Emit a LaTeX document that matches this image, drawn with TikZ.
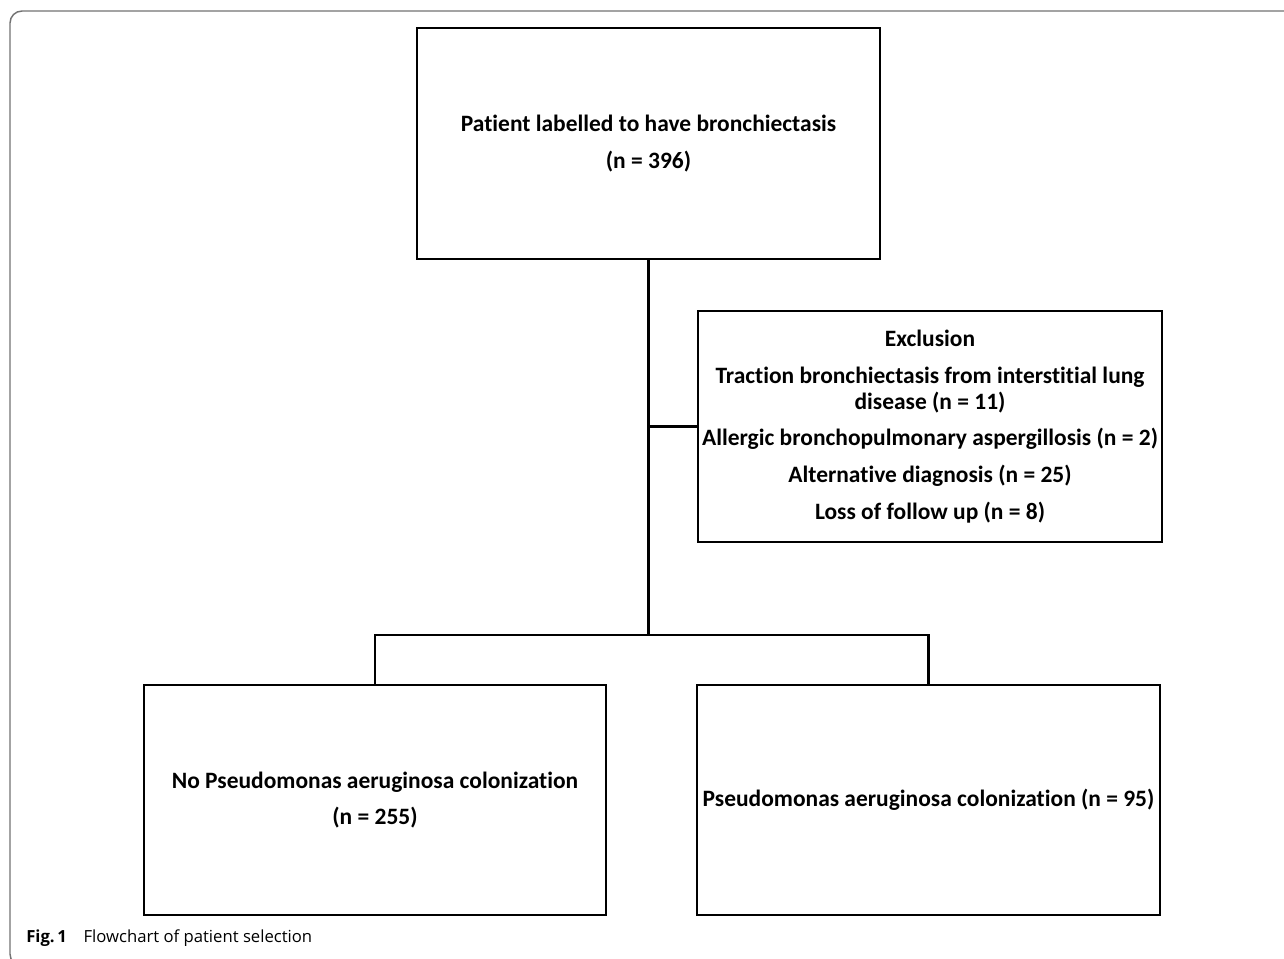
\documentclass[tikz,border=0pt]{standalone}
\usepackage{fontspec}
\setmainfont{Carlito}[Ligatures=NoCommon]
\newfontfamily\capfont{Open Sans}
\tikzset{
  flowbox/.style={draw=black, line width=1.6pt, align=center, inner sep=0pt,
    font=\bfseries\fontsize{17.6}{19.5}\selectfont},
  link/.style={draw=black, line width=1.6pt},
  frame/.style={draw=black!55, line width=1.1pt, rounded corners=9pt}
}
\begin{document}
\begin{tikzpicture}[x=0.75pt,y=-0.75pt]

  \useasboundingbox (0,0) rectangle (1284,958);
  \clip (0,0) rectangle (1284,958);
  \fill[white] (0,0) rectangle (1284,958);
  \draw[frame] (40,966) -- (10,966) -- (10,11) -- (1300,11);

  \node[flowbox, minimum width=347.25pt, minimum height=173.25pt] (top) at (648.5,143.5)
    {Patient labelled to have bronchiectasis\\[8pt](n = 396)};
  \node[flowbox, minimum width=348pt, minimum height=173.25pt] (excl) at (930,426.5)
    {Exclusion\\[8pt]Traction bronchiectasis from interstitial lung\\disease (n = 11)\\[8pt]
     Allergic bronchopulmonary aspergillosis (n = 2)\\[8pt]Alternative diagnosis (n = 25)\\[8pt]
     Loss of follow up (n = 8)};
  \node[flowbox, minimum width=346.5pt, minimum height=172.5pt] (nopa) at (375,800)
    {No Pseudomonas aeruginosa colonization\\[8pt](n = 255)};
  \node[flowbox, minimum width=347.25pt, minimum height=172.5pt] (pa) at (928.5,800)
    {Pseudomonas aeruginosa colonization (n = 95)};

  \coordinate (split) at (649,635);
  \draw[link] (top.south) -- (top.south |- split);
  \draw[link] (excl.west) -- (excl.west -| split);
  \draw[link] (nopa.north) |- (split) -| (pa.north);

  \node[anchor=base west, inner sep=0pt, font=\capfont\fontsize{12.5}{14}\selectfont] (caption) at (26,942)
    {\textbf{Fig.\,1}\hspace{1em}Flowchart of patient selection};

\end{tikzpicture}
\end{document}
